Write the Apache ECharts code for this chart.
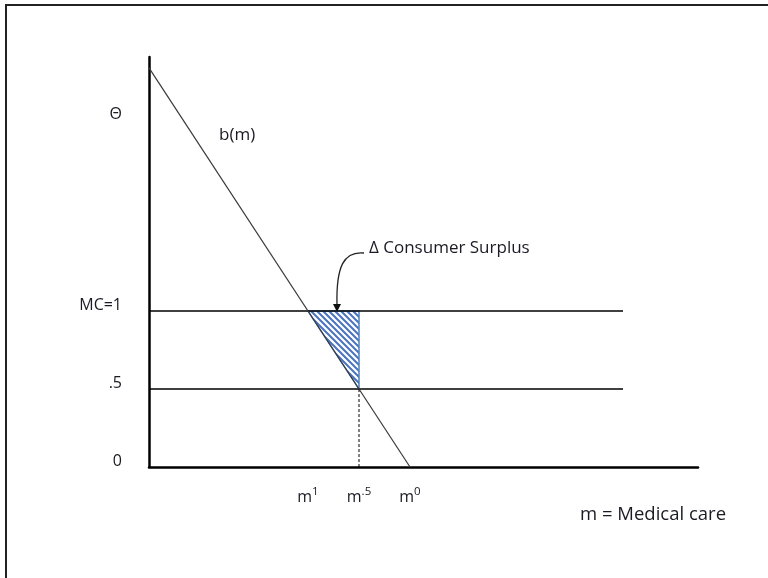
<!DOCTYPE html>
<html>
<head>
<meta charset="utf-8">
<script src="https://cdn.jsdelivr.net/npm/echarts@6/dist/echarts.min.js"></script>
<style>html,body{margin:0;padding:0;background:#fff}#c{width:768px;height:578px}</style>
</head>
<body>
<div id="c"></div>
<script>
// ---- data (m in arbitrary units, price on y) ----
const demandLine = [[0, 2.56], [2.61, 0]];          // b(m)
const priceLevels = [1, 0.5];                        // MC=1 and .5
const priceLineEnd = 4.74;
const yTickValues = [0, 0.5, 1, 2.22];
const yTickLabels = ['0', '.5', 'MC=1', 'Θ'];
const mTickValues = [1.59, 2.10, 2.61];
const mTickBase = ['m', 'm', 'm'];
const mTickSup = ['1', '.5', '0'];
const surplusTriangle = [[1.59, 1], [2.10, 1], [2.10, 0.5]];
const dashedDrop = [[2.10, 0.5], [2.10, 0]];
const xMax = 5.49, yMax = 2.63;

// hatch pattern
const pc = document.createElement('canvas');
pc.width = 6; pc.height = 6;
const g = pc.getContext('2d');
g.fillStyle = '#ffffff'; g.fillRect(0, 0, 6, 6);
g.strokeStyle = '#4a74bd'; g.lineWidth = 2;
g.beginPath();
g.moveTo(-1, -1); g.lineTo(7, 7);
g.moveTo(-4, 2); g.lineTo(4, 10);
g.moveTo(2, -4); g.lineTo(10, 4);
g.stroke();

const chart = echarts.init(document.getElementById('c'));
const font = "'Open Sans', sans-serif";
const txt = '#1a1a24';

const series = [];
series.push({
  type: 'custom',
  renderItem: function (params, api) {
    if (params.dataIndex !== 0) return null;
    const pts = surplusTriangle.map(p => api.coord(p));
    return {
      type: 'polygon',
      shape: { points: pts },
      style: { fill: { image: pc, repeat: 'repeat' }, stroke: '#4f7fc0', lineWidth: 1.5 }
    };
  },
  data: [0],
  z: 2,
  silent: true
});
priceLevels.forEach(p => {
  series.push({
    type: 'line', data: [[0, p], [priceLineEnd, p]], symbol: 'none',
    lineStyle: { color: '#000', width: 1.5 }, silent: true, z: 3
  });
});
series.push({
  type: 'line', data: dashedDrop, symbol: 'none',
  lineStyle: { color: '#000', width: 1, type: [3, 2] }, silent: true, z: 3
});
series.push({
  type: 'line', data: demandLine, symbol: 'none',
  lineStyle: { color: '#3a3a3a', width: 1.2 }, silent: true, z: 4
});

chart.setOption({
  animation: false,
  backgroundColor: '#fff',
  grid: { left: 149, right: 70, top: 57, bottom: 111, containLabel: false },
  xAxis: {
    type: 'value', min: 0, max: xMax,
    axisLine: { show: true, onZero: false, lineStyle: { color: '#000', width: 2.5 } },
    axisTick: { show: false },
    splitLine: { show: false },
    axisLabel: {
      customValues: mTickValues,
      margin: 19,
      formatter: function (v) {
        const i = mTickValues.findIndex(x => Math.abs(x - v) < 1e-6);
        if (i < 0) return '';
        return '{b|' + mTickBase[i] + '}{s|' + mTickSup[i] + '}';
      },
      rich: {
        b: { fontFamily: font, fontSize: 16, color: txt },
        s: { fontFamily: font, fontSize: 11.5, color: txt, padding: [0, 0, 10, 0] }
      }
    }
  },
  yAxis: {
    type: 'value', min: 0, max: yMax,
    axisLine: { show: true, onZero: false, lineStyle: { color: '#000', width: 2.5 } },
    axisTick: { show: false },
    splitLine: { show: false },
    axisLabel: {
      customValues: yTickValues,
      margin: 27,
      fontFamily: font, fontSize: 16, color: txt,
      lineHeight: 12,
      verticalAlign: 'bottom',
      formatter: function (v) {
        const i = yTickValues.findIndex(x => Math.abs(x - v) < 1e-6);
        return i < 0 ? '' : yTickLabels[i];
      }
    }
  },
  series: series,
  graphic: [
    { type: 'polyline', shape: { points: [[6, 578], [6, 5], [768, 5]] },
      style: { stroke: '#222', lineWidth: 2, fill: null }, silent: true },
    { type: 'text', left: 219, top: 127,
      style: { text: 'b(m)', font: "17px 'Open Sans', sans-serif", fill: txt } },
    { type: 'text', left: 369, top: 240,
      style: { text: 'Δ Consumer Surplus', font: "17px 'Open Sans', sans-serif", fill: txt } },
    { type: 'text', left: 580, top: 505,
      style: { text: 'm = Medical care', font: "18.5px 'Open Sans', sans-serif", fill: txt } },
    { type: 'bezierCurve',
      shape: { x1: 364, y1: 253, x2: 337, y2: 305, cpx1: 344, cpy1: 251, cpx2: 336, cpy2: 266 },
      style: { stroke: '#222', lineWidth: 1.3, fill: null }, silent: true },
    { type: 'polygon', shape: { points: [[333, 304], [341, 304], [337, 312]] },
      style: { fill: '#111' }, silent: true }
  ]
});
</script>
</body>
</html>
